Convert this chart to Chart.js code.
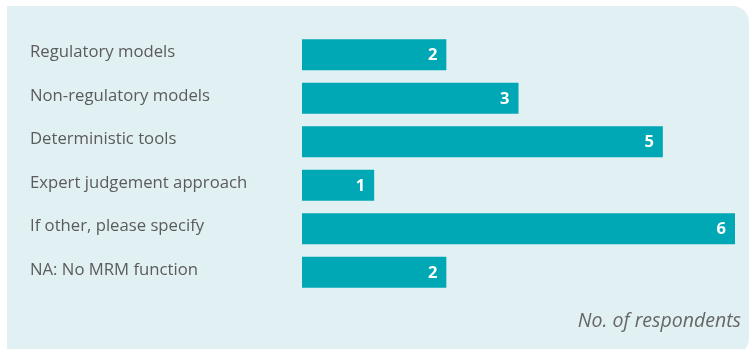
<!DOCTYPE html>
<html>
<head>
<meta charset="utf-8">
<script src="https://cdn.jsdelivr.net/npm/chart.js@4"></script>
<style>
  html, body { margin: 0; padding: 0; background: #fff; }
  .wrap { position: relative; width: 756px; height: 349px; overflow: hidden; }
  .panel {
    position: absolute; left: 7px; top: 6px; width: 742px; height: 350px;
    background: #e1f0f3; border-radius: 0 16px 18px 0;
  }
  #mrmChart { position: absolute; left: 0; top: 0; }
  .note {
    position: absolute; right: 15px; top: 306px;
    font: italic 19.5px "Open Sans", sans-serif; color: #666;
  }
</style>
</head>
<body>
<div class="wrap">
  <div class="panel"></div>
  <canvas id="mrmChart" width="756" height="349"></canvas>
  <div class="note">No. of respondents</div>
</div>
<script>
// -----------------------------
// DATA
// -----------------------------
const categories = [
    "Regulatory models",
    "Non-regulatory models",
    "Deterministic tools",
    "Expert judgement approach",
    "If other, please specify",
    "NA: No MRM function"
];
const respondents = [2, 3, 5, 1, 6, 2];

// white value labels at the end of each bar
const barValues = {
    id: "barValues",
    afterDatasetsDraw(chart) {
        const ctx = chart.ctx;
        const meta = chart.getDatasetMeta(0);
        ctx.save();
        ctx.fillStyle = "#ffffff";
        ctx.font = "bold 16.5px 'Open Sans', sans-serif";
        ctx.textAlign = "right";
        ctx.textBaseline = "middle";
        meta.data.forEach((bar, i) => {
            ctx.fillText(String(respondents[i]), bar.x - 9, bar.y + 1);
        });
        ctx.restore();
    }
};

new Chart(document.getElementById("mrmChart"), {
    type: "bar",
    data: {
        labels: categories,
        datasets: [{
            data: respondents,
            backgroundColor: "#00a7b5",
            categoryPercentage: 1,
            barPercentage: 0.71
        }]
    },
    options: {
        indexAxis: "y",
        responsive: false,
        animation: false,
        layout: { padding: { left: 30, right: 21, top: 33, bottom: 55 } },
        plugins: {
            legend: { display: false },
            tooltip: { enabled: false }
        },
        scales: {
            x: { display: false, min: 0, max: 6 },
            y: {
                grid: { display: false },
                border: { display: false },
                ticks: {
                    crossAlign: "far",
                    labelOffset: -2.5,
                    color: "#5b5b5b",
                    font: { family: "'Open Sans', sans-serif", size: 16.7 }
                },
                afterFit(scale) { scale.width = 272; }
            }
        }
    },
    plugins: [barValues]
});
</script>
</body>
</html>
